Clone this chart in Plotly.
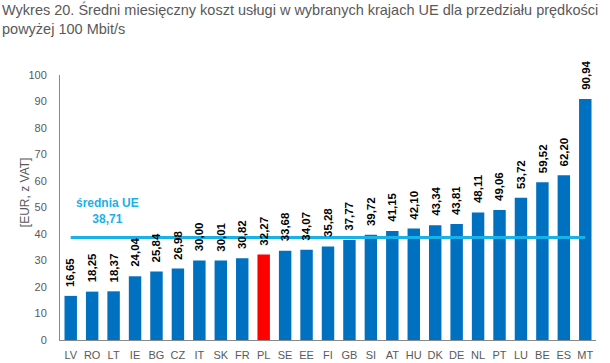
import plotly.graph_objects as go

countries = ["LV","RO","LT","IE","BG","CZ","IT","SK","FR","PL","SE","EE","FI","GB","SI","AT","HU","DK","DE","NL","PT","LU","BE","ES","MT"]
values = [16.65,18.25,18.37,24.04,25.84,26.98,30.00,30.01,30.82,32.27,33.68,34.07,35.28,37.77,39.72,41.15,42.10,43.34,43.81,48.11,49.06,53.72,59.52,62.20,90.94]
eu_avg = 38.71
highlight = "PL"
yticks = [0,10,20,30,40,50,60,70,80,90,100]

colors = ["#FF0000" if c == highlight else "#0070C0" for c in countries]
texts = [f"{v:.2f}".replace(".", ",") for v in values]

fig = go.Figure()
fig.add_trace(go.Bar(
    x=countries, y=values, marker_color=colors, marker_line_width=0,
    showlegend=False,
))
fig.add_trace(go.Scatter(
    x=[countries[0], countries[-1]], y=[eu_avg, eu_avg], mode="lines",
    line=dict(color="#1AB0E8", width=3), showlegend=False, hoverinfo="skip",
))
# value labels (drawn above the mean line)
for c, v, t in zip(countries, values, texts):
    fig.add_annotation(
        x=c, y=v, xref="x", yref="y", xanchor="center", yanchor="bottom",
        yshift=7, textangle=-90, text=t, showarrow=False,
        font=dict(family="Liberation Sans, Arial", size=11.5, color="#000000", weight="bold"),
    )
fig.add_annotation(
    x=countries[2], y=eu_avg, xref="x", yref="y", xshift=-6, yshift=26,
    text="średnia UE<br>" + f"{eu_avg:.2f}".replace(".", ","),
    showarrow=False, font=dict(family="Liberation Sans, Arial", size=12, color="#1AB0E8", weight="bold"),
    align="center",
)
fig.add_annotation(
    x=0, y=1, xref="paper", yref="paper", xanchor="left", yanchor="top",
    xshift=-60, yshift=76,
    text="Wykres 20. Średni miesięczny koszt usługi w wybranych krajach UE dla przedziału prędkości<br>powyżej 100 Mbit/s",
    showarrow=False, align="left",
    font=dict(family="Liberation Sans, Arial", size=14.5, color="#595959"),
)
fig.add_annotation(
    x=0, y=0.558, xref="paper", yref="paper", xanchor="center", yanchor="middle",
    xshift=-35, textangle=-90, text="[EUR, z VAT]", showarrow=False,
    font=dict(family="Liberation Sans, Arial", size=12, color="#595959"),
)
fig.update_layout(
    width=610, height=363,
    margin=dict(l=60, r=14, t=75, b=23, autoexpand=False),
    paper_bgcolor="white", plot_bgcolor="white",
    bargap=0.42,
    font=dict(family="Liberation Sans, Arial", size=11, color="#595959"),
)
fig.update_xaxes(showline=True, linecolor="#888888", linewidth=1, ticks="", showgrid=False, automargin=False,
                 ticklabelstandoff=5, tickfont=dict(size=11, color="#595959"))
fig.update_yaxes(range=[0, 100], tickvals=yticks, showline=True, linecolor="#888888", linewidth=1,
                 showgrid=False, zeroline=False, ticks="", ticklabelstandoff=10, automargin=False,
                 tickfont=dict(size=11, color="#595959"))

fig.write_html("out.html", config={"displayModeBar": False},
               post_script="document.body.style.margin='0';")
